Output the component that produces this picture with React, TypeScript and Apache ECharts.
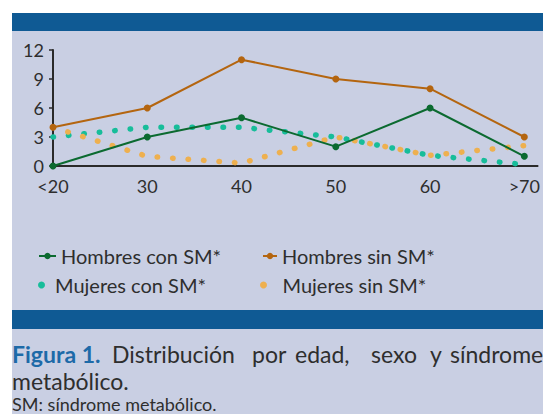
import React, { useEffect, useRef } from "react";
import * as echarts from "echarts";

const categories = ["<20", "30", "40", "50", "60", ">70"];
const hombresConSM = [0, 3, 5, 2, 6, 1];
const hombresSinSM = [4, 6, 11, 9, 8, 3];
const mujeresConSM = [3, 4, 4, 3, 1.1, 0.15];
const mujeresSinSM = [4, 1, 0.3, 3, 1.1, 2.1];
const yTicks = [0, 3, 6, 9, 12];

const FONT = "Lato";
const TEXT = "#2e2e2e";
const BAND = "#0f5a94";
const PANEL = "#c9cfe3";

const toPairs = (arr: number[]) => arr.map((v, i) => [i, v]);

export default function App() {
  const ref = useRef<HTMLDivElement>(null);
  useEffect(() => {
    document.body.style.margin = "0";
    if (!ref.current) return;
    const chart = echarts.init(ref.current, undefined, { renderer: "svg" });
    const dotLine = (color: string) => ({
      color,
      width: 5.5,
      type: [0.5, 15] as any,
      cap: "round" as const,
    });
    const captionWords: [string, number][] = [
      ["Distribución", 112],
      ["por", 252],
      ["edad,", 295],
      ["sexo", 371],
      ["y", 430],
      ["síndrome", 450],
    ];
    const legendBase = {
      orient: "horizontal" as const,
      itemWidth: 17,
      itemHeight: 8,
      itemGap: 0,
      textStyle: { fontFamily: FONT, fontSize: 20, color: TEXT },
      selectedMode: false as const,
    };
    chart.setOption({
      animation: false,
      graphic: [
        { type: "rect", z: -10, shape: { x: 12, y: 13, width: 531, height: 401 }, style: { fill: PANEL } },
        { type: "rect", z: -9, shape: { x: 12, y: 13, width: 531, height: 18 }, style: { fill: BAND } },
        { type: "rect", z: -9, shape: { x: 12, y: 310, width: 531, height: 19 }, style: { fill: BAND } },
        {
          type: "text",
          x: 12,
          y: 354,
          style: { text: "Figura 1.", font: `bold 23px ${FONT}`, fill: "#1d6aa8", verticalAlign: "middle" },
        },
        ...captionWords.map(([w, x]) => ({
          type: "text",
          x,
          y: 354,
          style: { text: w, font: `23px ${FONT}`, fill: TEXT, verticalAlign: "middle" },
        })),
        {
          type: "text",
          x: 12,
          y: 381,
          style: { text: "metabólico.", font: `23px ${FONT}`, fill: TEXT, verticalAlign: "middle" },
        },
        {
          type: "text",
          x: 12,
          y: 404,
          style: { text: "SM: síndrome metabólico.", font: `18px ${FONT}`, fill: TEXT, verticalAlign: "middle" },
        },
      ],
      grid: { left: 53, right: 3, top: 50, bottom: 248 },
      xAxis: {
        type: "value",
        min: 0,
        max: 5.14,
        interval: 1,
        splitLine: { show: false },
        axisTick: { show: false },
        axisLine: { show: true, lineStyle: { color: "#2a2a2a", width: 2 } },
        axisLabel: {
          margin: 11,
          fontFamily: FONT,
          fontSize: 18,
          color: TEXT,
          formatter: (v: number) => (Number.isInteger(v) && categories[v] !== undefined ? categories[v] : ""),
        },
      },
      yAxis: {
        type: "value",
        min: yTicks[0],
        max: yTicks[yTicks.length - 1],
        interval: 3,
        splitLine: { show: false },
        axisLine: { show: true, lineStyle: { color: "#2a2a2a", width: 2 } },
        axisTick: { show: true, length: 4, lineStyle: { color: "#2a2a2a", width: 1.5 } },
        axisLabel: { margin: 9, fontFamily: FONT, fontSize: 18, color: TEXT },
      },
      legend: [
        { ...legendBase, left: 33, top: 241, data: [{ name: "Hombres con SM*" }] },
        { ...legendBase, left: 257, top: 241, itemWidth: 14, data: [{ name: "Hombres sin SM*" }] },
        { ...legendBase, left: 33, top: 270, itemHeight: 7, data: [{ name: "Mujeres con SM*", icon: "circle" }] },
        { ...legendBase, left: 255, top: 270, itemWidth: 18, itemHeight: 7, data: [{ name: "Mujeres sin SM*", icon: "circle" }], textStyle: { ...legendBase.textStyle, padding: [0, 0, 0, 5] } },
      ],
      series: [
        {
          name: "Mujeres con SM*",
          type: "line",
          data: toPairs(mujeresConSM),
          symbol: "none",
          itemStyle: { color: "#17bd9a" },
          lineStyle: dotLine("#17bd9a"),
          z: 2,
        },
        {
          name: "Mujeres sin SM*",
          type: "line",
          data: toPairs(mujeresSinSM),
          symbol: "none",
          itemStyle: { color: "#eeb04f" },
          lineStyle: dotLine("#eeb04f"),
          z: 2,
        },
        {
          name: "Hombres con SM*",
          type: "line",
          data: toPairs(hombresConSM),
          symbol: "circle",
          symbolSize: 7,
          itemStyle: { color: "#0b6a30" },
          lineStyle: { color: "#0b6a30", width: 2 },
          z: 3,
        },
        {
          name: "Hombres sin SM*",
          type: "line",
          data: toPairs(hombresSinSM),
          symbol: "circle",
          symbolSize: 7,
          itemStyle: { color: "#b4650f" },
          lineStyle: { color: "#b4650f", width: 2 },
          z: 3,
        },
      ],
    });
    return () => chart.dispose();
  }, []);
  return <div ref={ref} style={{ width: 543, height: 414 }} />;
}
